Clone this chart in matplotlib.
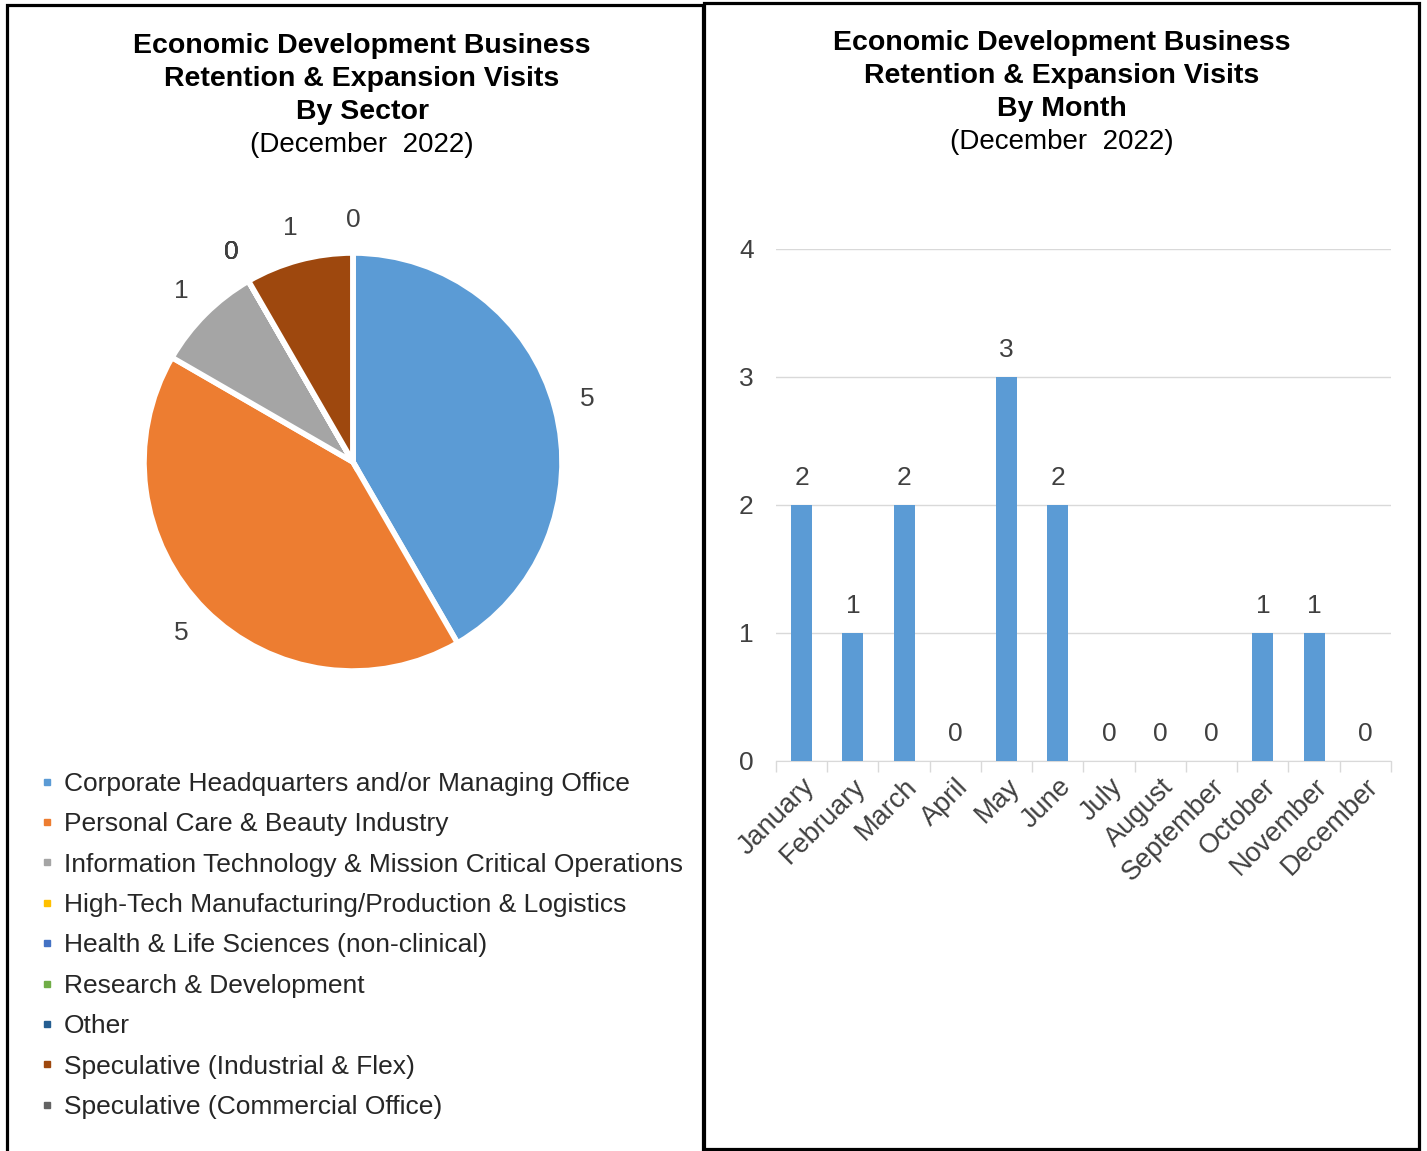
import matplotlib
matplotlib.use("Agg")
import matplotlib.pyplot as plt
from matplotlib.lines import Line2D
from matplotlib.patches import Rectangle

plt.rcParams['font.family'] = ['Liberation Sans', 'DejaVu Sans']

# visits by sector
sectors = ["Corporate Headquarters and/or Managing Office",
           "Personal Care & Beauty Industry",
           "Information Technology & Mission Critical Operations",
           "High-Tech Manufacturing/Production & Logistics",
           "Health & Life Sciences (non-clinical)",
           "Research & Development",
           "Other",
           "Speculative (Industrial & Flex)",
           "Speculative (Commercial Office)"]
sector_visits = [5, 5, 1, 0, 0, 0, 0, 1, 0]
sector_colors = ["#5B9BD5", "#ED7D31", "#A5A5A5", "#FFC000", "#4472C4",
                 "#70AD47", "#255E91", "#9E480E", "#636363"]

# visits by month
months = ["January", "February", "March", "April", "May", "June", "July",
          "August", "September", "October", "November", "December"]
month_visits = [2, 1, 2, 0, 3, 2, 0, 0, 0, 1, 1, 0]

W, H = 1427, 1151
fig = plt.figure(figsize=(W / 100, H / 100), dpi=100)
txt = "#404040"

def px(x, y):
    return x / W, 1 - y / H

# panel frames
fig.patches.append(Rectangle(px(7, 1165), 696 / W, 1160 / H, transform=fig.transFigure,
                             fill=False, edgecolor="black", lw=2.3))
fig.patches.append(Rectangle(px(704, 1149), 715 / W, 1146 / H, transform=fig.transFigure,
                             fill=False, edgecolor="black", lw=2.3))

# titles
def title(cx, y0, what):
    lines = ["Economic Development Business", "Retention & Expansion Visits", what]
    for i, s in enumerate(lines):
        fig.text(*px(cx, y0 + 33 * i), s, ha="center", va="center",
                 fontsize=20.5, fontweight="bold", color="black")
    fig.text(*px(cx, y0 + 99), "(December  2022)", ha="center", va="center",
             fontsize=20, color="black")

title(362, 46, "By Sector")
title(1062, 43, "By Month")

# pie
r = 209
cx, cy = 353, 462
half = r * 1.3
axp = fig.add_axes([(cx - half) / W, (H - cy - half) / H, 2 * half / W, 2 * half / H])
wedges, labels = axp.pie(sector_visits, colors=sector_colors, startangle=90,
                         counterclock=False, labels=[str(v) for v in sector_visits],
                         labeldistance=1.16,
                         wedgeprops=dict(edgecolor="white", linewidth=4),
                         textprops=dict(fontsize=19, color=txt))
for t in labels:
    t.set_ha("center")
    t.set_va("center")
axp.set_xlim(-1.3, 1.3)
axp.set_ylim(-1.3, 1.3)
axp.set_aspect("equal")

handles = [Line2D([], [], marker="s", linestyle="", color=c, markersize=5)
           for c in sector_colors]
fig.legend(handles, sectors, loc="upper left", bbox_to_anchor=px(40, 772),
           frameon=False, fontsize=19, handlelength=0.5, handletextpad=0.4,
           labelspacing=0.62, borderpad=0, borderaxespad=0, labelcolor="#262626")

# bars
axb = fig.add_axes([776 / W, (H - 761) / H, (1391 - 776) / W, 512 / H])
x = list(range(len(months)))
bars = axb.bar(x, month_visits, width=0.41, color="#5B9BD5", zorder=3)
axb.bar_label(bars, labels=[str(v) for v in month_visits], padding=11,
              fontsize=19, color=txt)
axb.set_xlim(-0.5, len(months) - 0.5)
axb.set_ylim(0, 4)
axb.set_yticks([0, 1, 2, 3, 4])
axb.yaxis.grid(True, color="#D9D9D9", lw=1, zorder=0)
axb.tick_params(axis="y", length=0, pad=16, labelsize=19, labelcolor=txt)
axb.set_xticks(x)
axb.set_xticklabels(months, rotation=45, ha="right", rotation_mode="anchor",
                    fontsize=19.5, color=txt)
axb.set_xticks([i - 0.5 for i in range(len(months) + 1)], minor=True)
axb.tick_params(axis="x", which="major", length=0, pad=9)
axb.tick_params(axis="x", which="minor", length=8, color="#D9D9D9", width=1)
for s in ["left", "right", "top"]:
    axb.spines[s].set_visible(False)
axb.spines["bottom"].set_color("#D9D9D9")

fig.savefig("out.png", dpi=100)
